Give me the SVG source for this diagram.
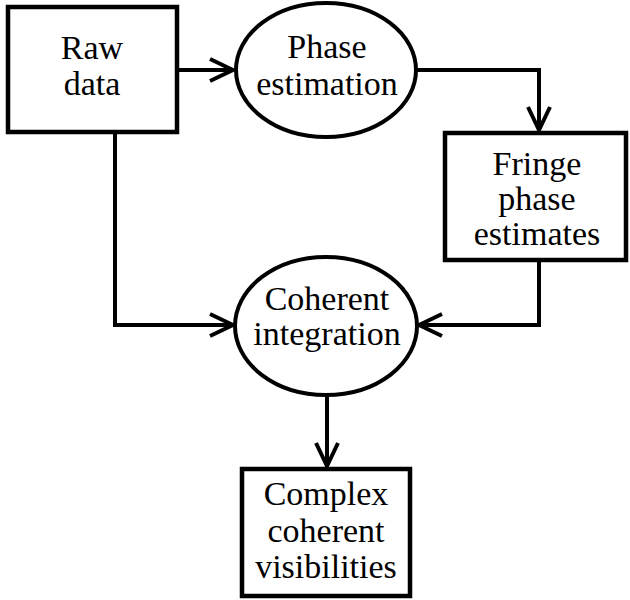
<svg xmlns="http://www.w3.org/2000/svg" width="630" height="600" viewBox="0 0 630 600">
<style>
.box{fill:#fff;stroke:#000;stroke-width:4.5}
.ell{fill:#fff;stroke:#000;stroke-width:4}
.edge{fill:none;stroke:#000;stroke-width:4}
.t{font-family:"Liberation Serif","Times New Roman",Times,serif;font-size:34px;fill:#000;text-anchor:middle}
</style>
<defs>
<marker id="arr" markerUnits="userSpaceOnUse" markerWidth="32" markerHeight="32" viewBox="-28 -16 32 32" refX="0" refY="0" orient="auto">
<path d="M-23,-11 L0,0 L-23,11" fill="none" stroke="#000" stroke-width="4"/>
</marker>
</defs>
<g id="connectors">
<path class="edge" d="M177,70 L233,70" marker-end="url(#arr)"/>
<path class="edge" d="M417,70 L539,70 L539,130" marker-end="url(#arr)"/>
<path class="edge" d="M115,132 L115,325 L233,325" marker-end="url(#arr)"/>
<path class="edge" d="M539,260 L539,325 L419,325" marker-end="url(#arr)"/>
<path class="edge" d="M327,394 L327,466" marker-end="url(#arr)"/>
</g>
<g id="raw-data">
<rect class="box" x="8" y="7" width="169" height="125"/>
<text class="t" x="92" y="59">Raw</text>
<text class="t" x="92" y="95">data</text>
</g>
<g id="phase-estimation">
<ellipse class="ell" cx="326" cy="70" rx="90" ry="67"/>
<text class="t" x="327" y="58">Phase</text>
<text class="t" x="327" y="95">estimation</text>
</g>
<g id="fringe-phase-estimates">
<rect class="box" x="445" y="133" width="181" height="127"/>
<text class="t" x="537" y="175">Fringe</text>
<text class="t" x="537" y="210">phase</text>
<text class="t" x="537" y="245">estimates</text>
</g>
<g id="coherent-integration">
<ellipse class="ell" cx="326" cy="326" rx="91" ry="69"/>
<text class="t" x="327" y="310">Coherent</text>
<text class="t" x="327" y="345">integration</text>
</g>
<g id="complex-coherent-visibilities">
<rect class="box" x="242" y="469" width="168" height="127"/>
<text class="t" x="326" y="505">Complex</text>
<text class="t" x="326" y="542">coherent</text>
<text class="t" x="326" y="578">visibilities</text>
</g>
</svg>
